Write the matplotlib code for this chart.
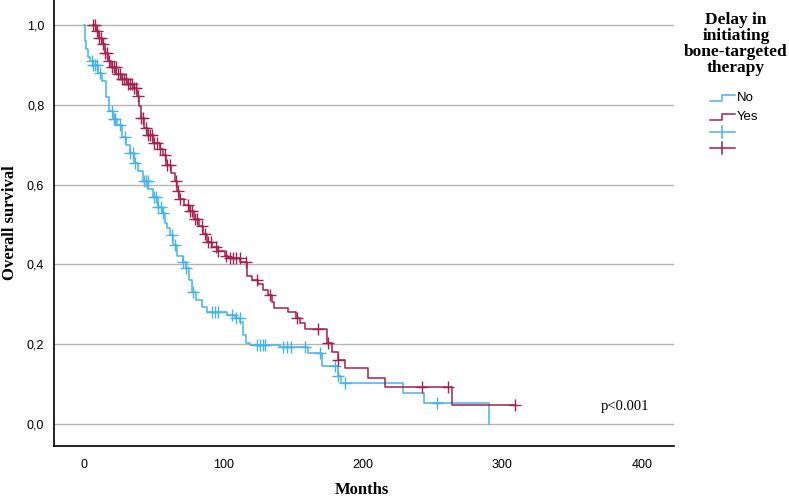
import matplotlib
matplotlib.use("Agg")
import matplotlib.pyplot as plt
import numpy as np

# Kaplan-Meier step data (months, survival)
no_time = [0, 0.7, 1.4, 2.9, 4.3, 6.5, 10, 13, 16, 18, 21, 24, 27, 30, 33, 36, 39, 42,
           46, 49.5, 53, 56, 58, 59.5, 61.6, 64, 67, 71, 73, 75, 77.4, 80, 84.6, 88,
           102.5, 108, 112, 114, 116, 119, 140.5, 160.6, 170.6, 182, 184, 228.7, 243.7, 290.3]
no_surv = [1.0, 0.96, 0.94, 0.92, 0.91, 0.90, 0.88, 0.86, 0.82, 0.785, 0.765, 0.75, 0.72,
           0.70, 0.68, 0.655, 0.635, 0.61, 0.59, 0.568, 0.543, 0.528, 0.505, 0.49, 0.473,
           0.448, 0.42, 0.405, 0.39, 0.36, 0.33, 0.31, 0.293, 0.28, 0.273, 0.265, 0.255,
           0.222, 0.202, 0.198, 0.193, 0.178, 0.145, 0.12, 0.103, 0.078, 0.053, 0.0]
no_censor = [5.7, 6.5, 7.9, 9.3, 11.5, 20.1, 21.5, 22.2, 25.8, 29.4, 33.0, 35.1, 36.6,
             43.0, 44.4, 45.9, 50.2, 51.6, 53.0, 55.2, 56.6, 63.1, 65.2, 71.0, 73.1, 78.1,
             91.8, 93.9, 96.1, 106.1, 109.0, 111.8, 124.0, 126.2, 128.3, 129.7, 142.7,
             145.5, 148.4, 158.4, 169.2, 179.9, 182.1, 187.1, 253.0]

yes_time = [6.5, 8.6, 10.8, 12.9, 15, 17.2, 19.4, 23, 27.2, 30.8, 35.1, 38, 39.4, 40.9,
            43, 45.9, 49.5, 54.5, 56.6, 58.8, 62.4, 65.2, 66.7, 68.1, 71.7, 75.3, 78.9,
            82.4, 85.3, 88.2, 91.8, 96.1, 101, 103.2, 112, 116.8, 120.4, 124.7, 128.3,
            131.9, 134.8, 136.2, 146.2, 152, 154.8, 158.4, 174.2, 177.8, 182.1, 187.1,
            203.6, 215.8, 263.8, 309]
yes_surv = [1.0, 0.985, 0.967, 0.953, 0.93, 0.91, 0.895, 0.877, 0.865, 0.853, 0.843,
            0.823, 0.798, 0.768, 0.743, 0.723, 0.705, 0.69, 0.673, 0.648, 0.63, 0.61,
            0.585, 0.565, 0.548, 0.535, 0.515, 0.495, 0.475, 0.455, 0.443, 0.433, 0.42,
            0.415, 0.405, 0.372, 0.36, 0.35, 0.335, 0.323, 0.305, 0.29, 0.28, 0.265,
            0.253, 0.238, 0.203, 0.18, 0.16, 0.14, 0.115, 0.093, 0.048, 0.048]
yes_censor = [6.5, 7.9, 9.3, 10.8, 12.2, 13.6, 15.1, 16.5, 17.9, 20.1, 21.5, 22.9, 24.4,
              25.8, 27.2, 28.7, 30.1, 31.5, 33.0, 34.4, 35.8, 37.3, 38.7, 40.9, 42.3,
              44.4, 45.9, 47.3, 48.7, 50.2, 52.3, 54.5, 58.1, 59.5, 61.6, 66.0, 67.4,
              68.8, 74.6, 76.0, 77.4, 79.6, 81.0, 84.6, 86.7, 88.9, 91.0, 94.6, 96.1,
              101.8, 104.7, 106.8, 109.0, 111.8, 116.1, 124.0, 133.3, 152.7, 167.7,
              174.9, 182.1, 242.3, 260.9, 309.0]

y_ticks = [0.0, 0.2, 0.4, 0.6, 0.8, 1.0]
x_ticks = [0, 100, 200, 300, 400]

BLUE = "#45b3ea"
RED = "#a3204f"
SERIF = ["Liberation Serif", "DejaVu Serif"]
SANS = ["Liberation Sans", "DejaVu Sans"]


def at_time(times, surv, c):
    idx = np.searchsorted(times, c, side="right") - 1
    return np.asarray(surv)[idx]


fig = plt.figure(figsize=(7.89, 4.97), dpi=100)
ax = fig.add_axes([54 / 789, 51 / 497, 620 / 789, 446 / 497])

for y in y_ticks:
    ax.axhline(y, color="#b4b4b4", lw=1, zorder=0)

for t, s, cens, col in [(no_time, no_surv, no_censor, BLUE),
                        (yes_time, yes_surv, yes_censor, RED)]:
    ax.step(t, s, where="post", color=col, lw=1.1)
    ax.plot(cens, at_time(np.array(t), s, np.array(cens)), ls="none", marker="+",
            ms=8, mew=1.0, color=col)

ax.set_xlim(-21.5, 423)
ax.set_ylim(-0.055, 1.0625)
ax.set_xticks(x_ticks)
ax.set_xticklabels([str(v) for v in x_ticks], family=SANS, fontsize=9)
ax.set_yticks(y_ticks)
ax.set_yticklabels([f"{v:.1f}".replace(".", ",") for v in y_ticks], family=SANS, fontsize=9)
ax.tick_params(length=0, pad=7)
ax.tick_params(axis="x", pad=9)
for side in ["top", "right"]:
    ax.spines[side].set_visible(False)
for side in ["left", "bottom"]:
    ax.spines[side].set_color("black")
    ax.spines[side].set_linewidth(1.2)

ax.set_xlabel("Months", family=SERIF, fontweight="bold", fontsize=12, va="center")
ax.xaxis.set_label_coords(0.497, -0.099)
ax.set_ylabel("Overall survival", family=SERIF, fontweight="bold", fontsize=12, va="center")
ax.yaxis.set_label_coords(-0.071, 0.50)
ax.text(388, 0.045, "p<0.001", family=SERIF, fontsize=10.5, ha="center", va="center")

# legend drawn in figure pixel space
lax = fig.add_axes([0, 0, 1, 1])
lax.set_xlim(0, 789)
lax.set_ylim(497, 0)
lax.axis("off")
lax.text(736, 44, "Delay in\ninitiating\nbone-targeted\ntherapy", family=SERIF,
         fontweight="bold", fontsize=12.5, ha="center", va="center", linespacing=0.98)
for yy, col, lab in [(98, BLUE, "No"), (117, RED, "Yes")]:
    lax.plot([710, 722, 722, 735], [yy + 3, yy + 3, yy - 3, yy - 3], color=col, lw=1.1)
    lax.text(737, yy, lab, family=SANS, fontsize=9.5, ha="left", va="center")
for yy, col in [(132, BLUE), (148, RED)]:
    lax.plot([710, 735], [yy, yy], color=col, lw=1.1)
    lax.plot([722, 722], [yy - 6, yy + 6], color=col, lw=1.1)

fig.savefig("out.png", dpi=100)
